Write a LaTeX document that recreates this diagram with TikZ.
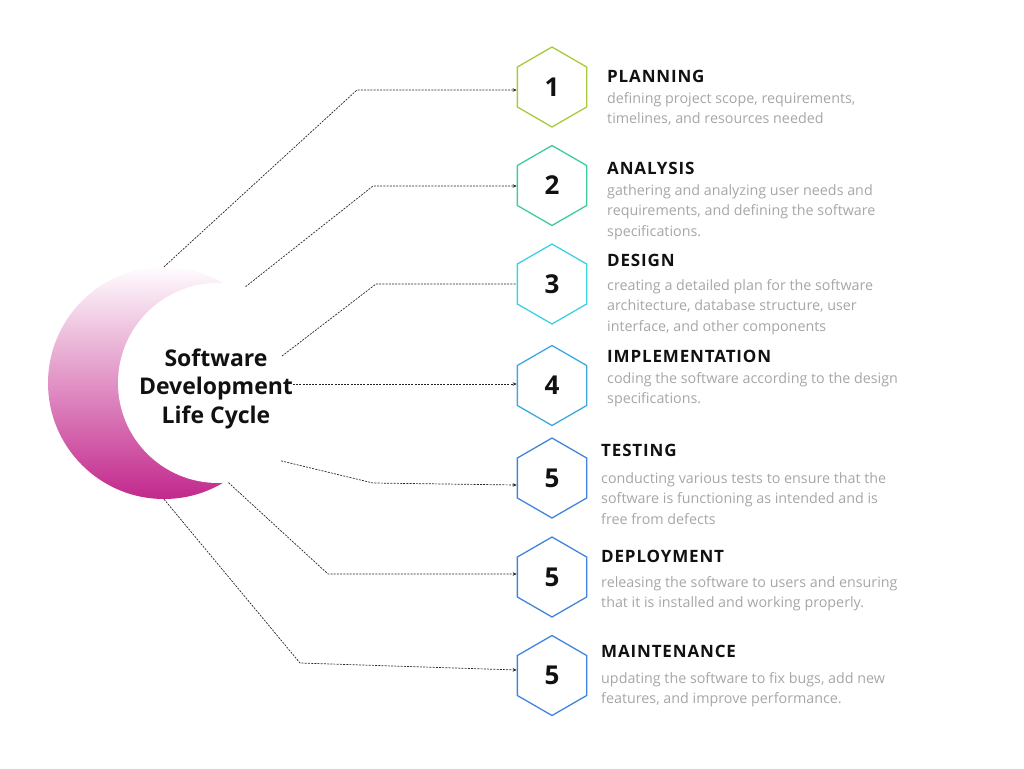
\documentclass[tikz,border=0pt]{standalone}
\usepackage{fontspec}
\setmainfont{Open Sans}
\newfontfamily\ttlfam[LetterSpace=5]{Open Sans}
\usetikzlibrary{shapes.geometric,arrows.meta}
\definecolor{crtop}{RGB}{255,252,254}
\definecolor{crmid}{RGB}{238,192,222}
\definecolor{crbot}{RGB}{194,40,140}
\definecolor{hexA}{RGB}{167,203,59}
\definecolor{hexB}{RGB}{62,204,156}
\definecolor{hexC}{RGB}{60,210,226}
\definecolor{hexD}{RGB}{61,167,224}
\definecolor{hexE}{RGB}{65,132,222}
\definecolor{descgray}{RGB}{166,166,166}
\definecolor{ink}{RGB}{17,17,17}
\begin{document}
\begin{tikzpicture}[x=1pt,y=-1pt,
  hexa/.style={regular polygon, regular polygon sides=6, shape border rotate=30,
    minimum size=80pt, inner sep=0pt, line width=1.3pt, draw=#1,
    font=\fontsize{26}{30}\selectfont\bfseries, text=ink},
  conn/.style={dash pattern=on 2pt off 1.2pt, line width=0.7pt, draw=black!85},
  arr/.style={-{Stealth[length=4pt,width=3.5pt]}},
  ttl/.style={anchor=base west, inner sep=0pt, font=\ttlfam\fontsize{17}{20}\selectfont\bfseries, text=ink},
  dsc/.style={anchor=base west, inner sep=0pt, align=left, font=\fontsize{14.3}{20.5}\selectfont, text=descgray},
]
\useasboundingbox (0,0) rectangle (1024,768);

% crescent
\node[circle, minimum size=232pt, inner sep=0pt, top color=crtop, middle color=crmid, bottom color=crbot] (outer) at (164,383) {};
\node[circle, minimum size=200pt, inner sep=0pt, fill=white] (inner) at (218,383) {};

% base anchor of a multi-line node = baseline of its last line
\node[align=center, inner sep=0pt, anchor=base, font=\fontsize{23}{28.5}\selectfont\bfseries, text=ink] (title) at (216,423) {Software\\Development\\Life Cycle};

% hexagons
\node[hexa=hexA] (h1) at (552,87) {1};
\node[hexa=hexB] (h2) at (552,185.5) {2};
\node[hexa=hexC] (h3) at (552,284) {3};
\node[hexa=hexD] (h4) at (552,385.5) {4};
\node[hexa=hexE] (h5) at (552,478) {5};
\node[hexa=hexE] (h6) at (552,577) {5};
\node[hexa=hexE] (h7) at (552,675.5) {5};

% texts
\node[ttl] (t1) at (607,82) {PLANNING};
\node[dsc] (d1) at (607,123.5) {defining project scope, requirements,\\timelines, and resources needed};
\node[ttl] (t2) at (607,174) {ANALYSIS};
\node[dsc] (d2) at (607,236) {gathering and analyzing user needs and\\requirements, and defining the software\\specifications.};
\node[ttl] (t3) at (607,266) {DESIGN};
\node[dsc] (d3) at (607,331) {creating a detailed plan for the software\\architecture, database structure, user\\interface, and other components};
\node[ttl] (t4) at (607,362) {IMPLEMENTATION};
\node[dsc] (d4) at (607,403.5) {coding the software according to the design\\specifications.};
\node[ttl] (t5) at (601,456) {TESTING};
\node[dsc] (d5) at (601,524) {conducting various tests to ensure that the\\software is functioning as intended and is\\free from defects};
\node[ttl] (t6) at (601,562) {DEPLOYMENT};
\node[dsc] (d6) at (601,607.5) {releasing the software to users and ensuring\\that it is installed and working properly.};
\node[ttl] (t7) at (601,657) {MAINTENANCE};
\node[dsc] (d7) at (601,703.5) {updating the software to fix bugs, add new\\features, and improve performance.};

% connectors
\coordinate (s3) at (282,356);
\coordinate (s4) at (293,384);
\coordinate (b1) at (357,90);
\coordinate (b2) at (373,186);
\coordinate (b3) at (376,284);
\coordinate (b5) at (373,483);
\coordinate (b6) at (328,574);
\coordinate (b7) at (300,663);

\draw[conn,arr] (outer.north) -- (b1) -- ([yshift=-3pt]h1.west);
\draw[conn,arr] (inner.74) -- (b2) -- ([yshift=-0.5pt]h2.west);
\draw[conn] (s3) -- (b3) -- (h3.west);
\draw[conn,arr] (s4) -- (s4 -| h4.west);
\draw[conn,arr] (inner.-51) -- (b5) -- ([yshift=-7pt]h5.west);
\draw[conn,arr] (inner.-84) -- (b6) -- ([yshift=3pt]h6.west);
\draw[conn,arr] (outer.south) -- (b7) -- ([yshift=5.5pt]h7.west);
\end{tikzpicture}
\end{document}
